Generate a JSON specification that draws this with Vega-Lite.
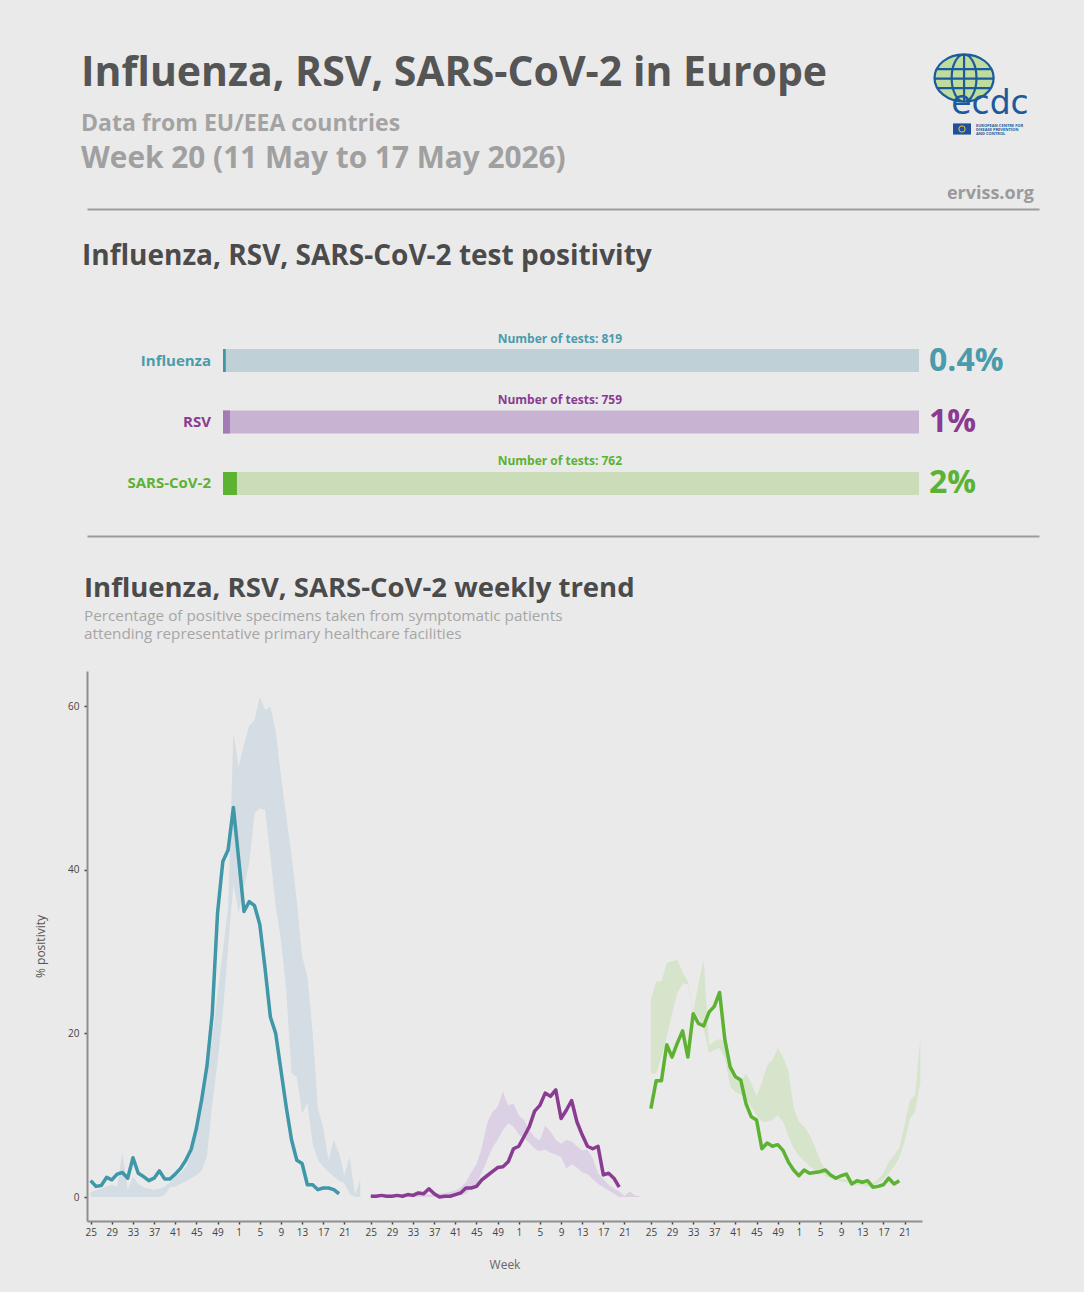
{
  "$schema": "https://vega.github.io/schema/vega-lite/v6.json",
  "background": "#eaeaea",
  "padding": {"left": 34, "top": 40, "right": 45, "bottom": 22},
  "spacing": 33,
  "config": {
    "view": {"stroke": null},
    "font": "Open Sans"
  },
  "datasets": {
    "header": [
      {"role": "title", "text": "Influenza, RSV, SARS-CoV-2 in Europe"},
      {"role": "subtitle", "text": "Data from EU/EEA countries"},
      {"role": "week", "text": "Week 20 (11 May to 17 May 2026)"},
      {"role": "site", "text": "erviss.org"},
      {"role": "logo", "text": "ecdc"},
      {"role": "logosub", "text": "EUROPEAN CENTRE FOR\nDISEASE PREVENTION\nAND CONTROL"}
    ],
    "tests": [
      {"pathogen": "Influenza", "positivity": 0.4, "tests": 819},
      {"pathogen": "RSV", "positivity": 1, "tests": 759},
      {"pathogen": "SARS-CoV-2", "positivity": 2, "tests": 762}
    ],
    "trend": [
      {"pathogen": "Influenza", "t": 0, "value": 2.0, "min": 0, "max": 0.6},
      {"pathogen": "Influenza", "t": 1, "value": 1.3, "min": 0, "max": 0.8},
      {"pathogen": "Influenza", "t": 2, "value": 1.4, "min": 0, "max": 1.0},
      {"pathogen": "Influenza", "t": 3, "value": 2.4, "min": 0, "max": 1.3},
      {"pathogen": "Influenza", "t": 4, "value": 2.1, "min": 0, "max": 1.5},
      {"pathogen": "Influenza", "t": 5, "value": 2.8, "min": 0, "max": 1.3},
      {"pathogen": "Influenza", "t": 6, "value": 3.0, "min": 0, "max": 5.5},
      {"pathogen": "Influenza", "t": 7, "value": 2.3, "min": 0, "max": 0.9},
      {"pathogen": "Influenza", "t": 8, "value": 4.8, "min": 0, "max": 2.5},
      {"pathogen": "Influenza", "t": 9, "value": 2.9, "min": 0, "max": 1.6},
      {"pathogen": "Influenza", "t": 10, "value": 2.5, "min": 0, "max": 1.2},
      {"pathogen": "Influenza", "t": 11, "value": 2.0, "min": 0, "max": 1.0},
      {"pathogen": "Influenza", "t": 12, "value": 2.3, "min": 0, "max": 0.9},
      {"pathogen": "Influenza", "t": 13, "value": 3.2, "min": 0, "max": 1.0},
      {"pathogen": "Influenza", "t": 14, "value": 2.2, "min": 0.3, "max": 1.3},
      {"pathogen": "Influenza", "t": 15, "value": 2.2, "min": 1.2, "max": 1.8},
      {"pathogen": "Influenza", "t": 16, "value": 2.8, "min": 1.3, "max": 2.4},
      {"pathogen": "Influenza", "t": 17, "value": 3.5, "min": 1.6, "max": 3.0},
      {"pathogen": "Influenza", "t": 18, "value": 4.5, "min": 1.9, "max": 3.6},
      {"pathogen": "Influenza", "t": 19, "value": 5.8, "min": 2.3, "max": 5.2},
      {"pathogen": "Influenza", "t": 20, "value": 8.4, "min": 2.7, "max": 7.8},
      {"pathogen": "Influenza", "t": 21, "value": 11.9, "min": 3.2, "max": 11.0},
      {"pathogen": "Influenza", "t": 22, "value": 16.0, "min": 5.0, "max": 14.5},
      {"pathogen": "Influenza", "t": 23, "value": 22.4, "min": 11.5, "max": 19.5},
      {"pathogen": "Influenza", "t": 24, "value": 34.7, "min": 16.5, "max": 24.8},
      {"pathogen": "Influenza", "t": 25, "value": 41.0, "min": 22.5, "max": 30.0},
      {"pathogen": "Influenza", "t": 26, "value": 42.4, "min": 30.5, "max": 35.4},
      {"pathogen": "Influenza", "t": 27, "value": 47.6, "min": 38.3, "max": 56.7},
      {"pathogen": "Influenza", "t": 28, "value": 41.3, "min": 34.7, "max": 52.6},
      {"pathogen": "Influenza", "t": 29, "value": 34.9, "min": 37.9, "max": 55.2},
      {"pathogen": "Influenza", "t": 30, "value": 36.1, "min": 40.8, "max": 57.6},
      {"pathogen": "Influenza", "t": 31, "value": 35.6, "min": 46.9, "max": 58.3},
      {"pathogen": "Influenza", "t": 32, "value": 33.3, "min": 47.5, "max": 61.1},
      {"pathogen": "Influenza", "t": 33, "value": 27.9, "min": 47.3, "max": 59.5},
      {"pathogen": "Influenza", "t": 34, "value": 22.0, "min": 41.6, "max": 59.9},
      {"pathogen": "Influenza", "t": 35, "value": 20.0, "min": 35.5, "max": 56.9},
      {"pathogen": "Influenza", "t": 36, "value": 15.5, "min": 31.4, "max": 51.5},
      {"pathogen": "Influenza", "t": 37, "value": 11.0, "min": 25.3, "max": 46.5},
      {"pathogen": "Influenza", "t": 38, "value": 7.0, "min": 15.1, "max": 41.8},
      {"pathogen": "Influenza", "t": 39, "value": 4.5, "min": 14.7, "max": 36.2},
      {"pathogen": "Influenza", "t": 40, "value": 4.1, "min": 10.2, "max": 29.4},
      {"pathogen": "Influenza", "t": 41, "value": 1.5, "min": 11.5, "max": 27.0},
      {"pathogen": "Influenza", "t": 42, "value": 1.5, "min": 6.5, "max": 20.0},
      {"pathogen": "Influenza", "t": 43, "value": 0.9, "min": 4.5, "max": 10.8},
      {"pathogen": "Influenza", "t": 44, "value": 1.1, "min": 3.7, "max": 8.5},
      {"pathogen": "Influenza", "t": 45, "value": 1.1, "min": 3.1, "max": 4.5},
      {"pathogen": "Influenza", "t": 46, "value": 0.9, "min": 2.5, "max": 7.0},
      {"pathogen": "Influenza", "t": 47, "value": 0.4, "min": 2.0, "max": 5.3},
      {"pathogen": "Influenza", "t": 48, "min": 1.7, "max": 2.7},
      {"pathogen": "Influenza", "t": 49, "min": 0.4, "max": 4.9},
      {"pathogen": "Influenza", "t": 50, "min": 0, "max": 0.3},
      {"pathogen": "Influenza", "t": 51, "min": 0, "max": 2.1},
      {"pathogen": "RSV", "t": 53, "value": 0.1, "min": 0, "max": 0.3},
      {"pathogen": "RSV", "t": 54, "value": 0.1, "min": 0, "max": 0.3},
      {"pathogen": "RSV", "t": 55, "value": 0.2, "min": 0, "max": 0.3},
      {"pathogen": "RSV", "t": 56, "value": 0.1, "min": 0, "max": 0.3},
      {"pathogen": "RSV", "t": 57, "value": 0.1, "min": 0, "max": 0.3},
      {"pathogen": "RSV", "t": 58, "value": 0.2, "min": 0, "max": 0.3},
      {"pathogen": "RSV", "t": 59, "value": 0.1, "min": 0, "max": 0.3},
      {"pathogen": "RSV", "t": 60, "value": 0.3, "min": 0, "max": 0.3},
      {"pathogen": "RSV", "t": 61, "value": 0.2, "min": 0, "max": 0.3},
      {"pathogen": "RSV", "t": 62, "value": 0.5, "min": 0, "max": 0.3},
      {"pathogen": "RSV", "t": 63, "value": 0.4, "min": 0, "max": 0.3},
      {"pathogen": "RSV", "t": 64, "value": 1.0, "min": 0, "max": 0.3},
      {"pathogen": "RSV", "t": 65, "value": 0.4, "min": 0, "max": 0.3},
      {"pathogen": "RSV", "t": 66, "value": 0.0, "min": 0, "max": 0.4},
      {"pathogen": "RSV", "t": 67, "value": 0.1, "min": 0, "max": 0.5},
      {"pathogen": "RSV", "t": 68, "value": 0.1, "min": 0, "max": 0.6},
      {"pathogen": "RSV", "t": 69, "value": 0.3, "min": 0.1, "max": 0.8},
      {"pathogen": "RSV", "t": 70, "value": 0.5, "min": 0.2, "max": 1.2},
      {"pathogen": "RSV", "t": 71, "value": 1.1, "min": 0.4, "max": 1.8},
      {"pathogen": "RSV", "t": 72, "value": 1.1, "min": 1.0, "max": 3.0},
      {"pathogen": "RSV", "t": 73, "value": 1.3, "min": 1.6, "max": 4.0},
      {"pathogen": "RSV", "t": 74, "value": 2.1, "min": 3.0, "max": 6.0},
      {"pathogen": "RSV", "t": 75, "value": 2.6, "min": 4.5, "max": 9.0},
      {"pathogen": "RSV", "t": 76, "value": 3.1, "min": 6.0, "max": 10.4},
      {"pathogen": "RSV", "t": 77, "value": 3.6, "min": 7.0, "max": 11.0},
      {"pathogen": "RSV", "t": 78, "value": 3.7, "min": 8.2, "max": 12.9},
      {"pathogen": "RSV", "t": 79, "value": 4.3, "min": 9.0, "max": 11.2},
      {"pathogen": "RSV", "t": 80, "value": 5.9, "min": 8.6, "max": 11.4},
      {"pathogen": "RSV", "t": 81, "value": 6.2, "min": 7.6, "max": 10.0},
      {"pathogen": "RSV", "t": 82, "value": 7.4, "min": 7.2, "max": 9.4},
      {"pathogen": "RSV", "t": 83, "value": 8.6, "min": 6.6, "max": 8.2},
      {"pathogen": "RSV", "t": 84, "value": 10.5, "min": 5.9, "max": 7.3},
      {"pathogen": "RSV", "t": 85, "value": 11.2, "min": 5.6, "max": 6.9},
      {"pathogen": "RSV", "t": 86, "value": 12.7, "min": 5.8, "max": 8.7},
      {"pathogen": "RSV", "t": 87, "value": 12.3, "min": 5.4, "max": 8.0},
      {"pathogen": "RSV", "t": 88, "value": 13.1, "min": 5.2, "max": 7.0},
      {"pathogen": "RSV", "t": 89, "value": 9.6, "min": 4.9, "max": 6.5},
      {"pathogen": "RSV", "t": 90, "value": 10.6, "min": 3.5, "max": 7.0},
      {"pathogen": "RSV", "t": 91, "value": 11.8, "min": 4.0, "max": 6.8},
      {"pathogen": "RSV", "t": 92, "value": 9.2, "min": 3.6, "max": 6.2},
      {"pathogen": "RSV", "t": 93, "value": 7.6, "min": 3.0, "max": 5.7},
      {"pathogen": "RSV", "t": 94, "value": 6.2, "min": 2.8, "max": 5.8},
      {"pathogen": "RSV", "t": 95, "value": 5.9, "min": 2.2, "max": 4.7},
      {"pathogen": "RSV", "t": 96, "value": 6.2, "min": 1.6, "max": 2.9},
      {"pathogen": "RSV", "t": 97, "value": 2.7, "min": 1.2, "max": 2.2},
      {"pathogen": "RSV", "t": 98, "value": 2.9, "min": 0.8, "max": 1.5},
      {"pathogen": "RSV", "t": 99, "value": 2.3, "min": 0.4, "max": 1.0},
      {"pathogen": "RSV", "t": 100, "value": 1.2, "min": 0, "max": 0.7},
      {"pathogen": "RSV", "t": 101, "min": 0, "max": 0.1},
      {"pathogen": "RSV", "t": 102, "min": 0, "max": 0.7},
      {"pathogen": "RSV", "t": 103, "min": 0, "max": 0.2},
      {"pathogen": "RSV", "t": 104, "min": 0, "max": 0.1},
      {"pathogen": "SARS-CoV-2", "t": 106, "value": 10.8, "min": 15.1, "max": 24.1},
      {"pathogen": "SARS-CoV-2", "t": 107, "value": 14.2, "min": 15.1, "max": 26.3},
      {"pathogen": "SARS-CoV-2", "t": 108, "value": 14.2, "min": 17.1, "max": 26.4},
      {"pathogen": "SARS-CoV-2", "t": 109, "value": 18.6, "min": 19.6, "max": 28.6},
      {"pathogen": "SARS-CoV-2", "t": 110, "value": 17.1, "min": 22.4, "max": 28.8},
      {"pathogen": "SARS-CoV-2", "t": 111, "value": 18.8, "min": 24.9, "max": 29.0},
      {"pathogen": "SARS-CoV-2", "t": 112, "value": 20.3, "min": 26.1, "max": 27.5},
      {"pathogen": "SARS-CoV-2", "t": 113, "value": 17.1, "min": 26.0, "max": 26.3},
      {"pathogen": "SARS-CoV-2", "t": 114, "value": 22.4, "min": 22.2, "max": 22.6},
      {"pathogen": "SARS-CoV-2", "t": 115, "value": 21.2, "min": 22.0, "max": 26.1},
      {"pathogen": "SARS-CoV-2", "t": 116, "value": 20.9, "min": 20.5, "max": 29.0},
      {"pathogen": "SARS-CoV-2", "t": 117, "value": 22.6, "min": 17.6, "max": 18.5},
      {"pathogen": "SARS-CoV-2", "t": 118, "value": 23.3, "min": 18.0, "max": 19.0},
      {"pathogen": "SARS-CoV-2", "t": 119, "value": 25.0, "min": 18.2, "max": 19.3},
      {"pathogen": "SARS-CoV-2", "t": 120, "value": 19.2, "min": 17.0, "max": 19.0},
      {"pathogen": "SARS-CoV-2", "t": 121, "value": 15.9, "min": 13.5, "max": 16.0},
      {"pathogen": "SARS-CoV-2", "t": 122, "value": 14.7, "min": 12.8, "max": 14.5},
      {"pathogen": "SARS-CoV-2", "t": 123, "value": 14.3, "min": 12.5, "max": 14.0},
      {"pathogen": "SARS-CoV-2", "t": 124, "value": 11.4, "min": 12.0, "max": 15.1},
      {"pathogen": "SARS-CoV-2", "t": 125, "value": 9.8, "min": 11.0, "max": 13.9},
      {"pathogen": "SARS-CoV-2", "t": 126, "value": 9.4, "min": 10.0, "max": 12.3},
      {"pathogen": "SARS-CoV-2", "t": 127, "value": 5.9, "min": 9.2, "max": 14.0},
      {"pathogen": "SARS-CoV-2", "t": 128, "value": 6.6, "min": 9.2, "max": 16.1},
      {"pathogen": "SARS-CoV-2", "t": 129, "value": 6.2, "min": 9.4, "max": 16.7},
      {"pathogen": "SARS-CoV-2", "t": 130, "value": 6.4, "min": 10.0, "max": 18.2},
      {"pathogen": "SARS-CoV-2", "t": 131, "value": 5.7, "min": 9.2, "max": 17.1},
      {"pathogen": "SARS-CoV-2", "t": 132, "value": 4.3, "min": 7.5, "max": 15.5},
      {"pathogen": "SARS-CoV-2", "t": 133, "value": 3.3, "min": 6.0, "max": 11.0},
      {"pathogen": "SARS-CoV-2", "t": 134, "value": 2.6, "min": 5.0, "max": 9.2},
      {"pathogen": "SARS-CoV-2", "t": 135, "value": 3.3, "min": 4.4, "max": 8.6},
      {"pathogen": "SARS-CoV-2", "t": 136, "value": 2.9, "min": 3.8, "max": 7.6},
      {"pathogen": "SARS-CoV-2", "t": 137, "value": 3.0, "min": 3.3, "max": 6.2},
      {"pathogen": "SARS-CoV-2", "t": 138, "value": 3.1, "min": 2.9, "max": 4.5},
      {"pathogen": "SARS-CoV-2", "t": 139, "value": 3.3, "min": 2.6, "max": 3.3},
      {"pathogen": "SARS-CoV-2", "t": 140, "value": 2.7, "min": 2.3, "max": 2.8},
      {"pathogen": "SARS-CoV-2", "t": 141, "value": 2.3, "min": 2.1, "max": 2.4},
      {"pathogen": "SARS-CoV-2", "t": 142, "value": 2.6, "min": 1.9, "max": 2.2},
      {"pathogen": "SARS-CoV-2", "t": 143, "value": 2.8, "min": 1.8, "max": 2.1},
      {"pathogen": "SARS-CoV-2", "t": 144, "value": 1.6, "min": 1.6, "max": 1.9},
      {"pathogen": "SARS-CoV-2", "t": 145, "value": 2.0, "min": 1.5, "max": 1.8},
      {"pathogen": "SARS-CoV-2", "t": 146, "value": 1.8, "min": 1.4, "max": 1.7},
      {"pathogen": "SARS-CoV-2", "t": 147, "value": 2.0, "min": 1.3, "max": 2.1},
      {"pathogen": "SARS-CoV-2", "t": 148, "value": 1.2, "min": 1.3, "max": 1.7},
      {"pathogen": "SARS-CoV-2", "t": 149, "value": 1.3, "min": 1.7, "max": 2.2},
      {"pathogen": "SARS-CoV-2", "t": 150, "value": 1.5, "min": 2.1, "max": 2.9},
      {"pathogen": "SARS-CoV-2", "t": 151, "value": 2.3, "min": 2.9, "max": 4.3},
      {"pathogen": "SARS-CoV-2", "t": 152, "value": 1.6, "min": 3.7, "max": 5.1},
      {"pathogen": "SARS-CoV-2", "t": 153, "value": 2.0, "min": 4.8, "max": 6.0},
      {"pathogen": "SARS-CoV-2", "t": 154, "min": 6.8, "max": 8.8},
      {"pathogen": "SARS-CoV-2", "t": 155, "min": 9.5, "max": 11.8},
      {"pathogen": "SARS-CoV-2", "t": 156, "min": 10.5, "max": 12.5},
      {"pathogen": "SARS-CoV-2", "t": 157, "min": 14.0, "max": 19.6}
    ]
  },
  "vconcat": [
    {
      "width": 952,
      "height": 169,
      "data": {"name": "header"},
      "layer": [
        {
          "transform": [{"filter": "datum.role === 'title'"}],
          "mark": {"type": "text", "align": "left", "baseline": "alphabetic", "fontSize": 41, "fontWeight": "bold", "color": "#555555", "dx": -6},
          "encoding": {
            "x": {"datum": 0, "type": "quantitative", "scale": {"domain": [0, 1]}, "axis": {"domainColor": "#9c9c9c", "domainWidth": 2, "ticks": false, "labels": false, "grid": false, "title": null}},
            "y": {"datum": 0.728, "type": "quantitative", "scale": {"domain": [0, 1]}, "axis": null},
            "text": {"field": "text", "type": "nominal"}
          }
        },
        {
          "transform": [{"filter": "datum.role === 'subtitle'"}],
          "mark": {"type": "text", "align": "left", "baseline": "alphabetic", "fontSize": 23, "fontWeight": "bold", "color": "#a3a3a3", "dx": -6},
          "encoding": {
            "x": {"datum": 0, "type": "quantitative", "scale": {"domain": [0, 1]}, "axis": {"domainColor": "#9c9c9c", "domainWidth": 2, "ticks": false, "labels": false, "grid": false, "title": null}},
            "y": {"datum": 0.4615, "type": "quantitative", "scale": {"domain": [0, 1]}, "axis": null},
            "text": {"field": "text", "type": "nominal"}
          }
        },
        {
          "transform": [{"filter": "datum.role === 'week'"}],
          "mark": {"type": "text", "align": "left", "baseline": "alphabetic", "fontSize": 29.8, "fontWeight": "bold", "color": "#a0a0a0", "dx": -6},
          "encoding": {
            "x": {"datum": 0, "type": "quantitative", "scale": {"domain": [0, 1]}, "axis": {"domainColor": "#9c9c9c", "domainWidth": 2, "ticks": false, "labels": false, "grid": false, "title": null}},
            "y": {"datum": 0.2426, "type": "quantitative", "scale": {"domain": [0, 1]}, "axis": null},
            "text": {"field": "text", "type": "nominal"}
          }
        },
        {
          "transform": [{"filter": "datum.role === 'site'"}],
          "mark": {"type": "text", "align": "right", "baseline": "alphabetic", "fontSize": 18, "fontWeight": "bold", "color": "#9a9a9a", "dx": -5},
          "encoding": {
            "x": {"datum": 1, "type": "quantitative", "scale": {"domain": [0, 1]}, "axis": {"domainColor": "#9c9c9c", "domainWidth": 2, "ticks": false, "labels": false, "grid": false, "title": null}},
            "y": {"datum": 0.0592, "type": "quantitative", "scale": {"domain": [0, 1]}, "axis": null},
            "text": {"field": "text", "type": "nominal"}
          }
        },
        {
          "transform": [{"filter": "datum.role === 'logo'"}],
          "mark": {"type": "point", "shape": "M -1 0 A 1 0.8 0 1 1 1 0 A 1 0.8 0 1 1 -1 0 Z", "size": 3500, "filled": true, "color": "#b9da95", "opacity": 0.9},
          "encoding": {
            "x": {"datum": 0.9213, "type": "quantitative", "scale": {"domain": [0, 1]}, "axis": {"domainColor": "#9c9c9c", "domainWidth": 2, "ticks": false, "labels": false, "grid": false, "title": null}},
            "y": {"datum": 0.7752, "type": "quantitative", "scale": {"domain": [0, 1]}, "axis": null}
          }
        },
        {
          "transform": [{"filter": "datum.role === 'logo'"}],
          "mark": {"type": "point", "shape": "M -1 0 A 1 0.8 0 1 1 1 0 A 1 0.8 0 1 1 -1 0 Z M 0 -0.8 A 0.42 0.8 0 1 1 0 0.8 A 0.42 0.8 0 1 1 0 -0.8 M -0.93 -0.3 L 0.93 -0.3 M -1 0.02 L 1 0.02 M -0.93 0.34 L 0.93 0.34 M 0 -0.8 L 0 0.8", "size": 3500, "filled": false, "stroke": "#1d5a9c", "strokeWidth": 2.2, "opacity": 1},
          "encoding": {
            "x": {"datum": 0.9213, "type": "quantitative", "scale": {"domain": [0, 1]}, "axis": {"domainColor": "#9c9c9c", "domainWidth": 2, "ticks": false, "labels": false, "grid": false, "title": null}},
            "y": {"datum": 0.7752, "type": "quantitative", "scale": {"domain": [0, 1]}, "axis": null}
          }
        },
        {
          "transform": [{"filter": "datum.role === 'logo'"}],
          "mark": {"type": "text", "align": "center", "baseline": "alphabetic", "fontSize": 33, "font": "DejaVu Sans", "color": "#1d5a9c"},
          "encoding": {
            "x": {"datum": 0.9485, "type": "quantitative", "scale": {"domain": [0, 1]}, "axis": {"domainColor": "#9c9c9c", "domainWidth": 2, "ticks": false, "labels": false, "grid": false, "title": null}},
            "y": {"datum": 0.5621, "type": "quantitative", "scale": {"domain": [0, 1]}, "axis": null},
            "text": {"field": "text", "type": "nominal"}
          }
        },
        {
          "transform": [{"filter": "datum.role === 'logosub'"}],
          "mark": {"type": "text", "align": "left", "baseline": "top", "fontSize": 4, "lineHeight": 4.2, "lineBreak": "\n", "fontWeight": "bold", "color": "#1d5a9c"},
          "encoding": {
            "x": {"datum": 0.9338, "type": "quantitative", "scale": {"domain": [0, 1]}, "axis": {"domainColor": "#9c9c9c", "domainWidth": 2, "ticks": false, "labels": false, "grid": false, "title": null}},
            "y": {"datum": 0.503, "type": "quantitative", "scale": {"domain": [0, 1]}, "axis": null},
            "text": {"field": "text", "type": "nominal"}
          }
        },
        {
          "transform": [{"filter": "datum.role === 'logosub'"}],
          "mark": {"type": "point", "shape": "M -1 -0.62 L 1 -0.62 L 1 0.62 L -1 0.62 Z", "size": 324, "filled": true, "color": "#1f4f9e", "opacity": 1},
          "encoding": {
            "x": {"datum": 0.9191, "type": "quantitative", "scale": {"domain": [0, 1]}, "axis": {"domainColor": "#9c9c9c", "domainWidth": 2, "ticks": false, "labels": false, "grid": false, "title": null}},
            "y": {"datum": 0.4734, "type": "quantitative", "scale": {"domain": [0, 1]}, "axis": null}
          }
        },
        {
          "transform": [{"filter": "datum.role === 'logosub'"}],
          "mark": {"type": "point", "shape": "circle", "size": 40, "filled": false, "stroke": "#f2cf1f", "strokeWidth": 1, "opacity": 1},
          "encoding": {
            "x": {"datum": 0.9191, "type": "quantitative", "scale": {"domain": [0, 1]}, "axis": {"domainColor": "#9c9c9c", "domainWidth": 2, "ticks": false, "labels": false, "grid": false, "title": null}},
            "y": {"datum": 0.4734, "type": "quantitative", "scale": {"domain": [0, 1]}, "axis": null}
          }
        }
      ]
    },
    {
      "width": 952,
      "height": 228,
      "title": {"text": "Influenza, RSV, SARS-CoV-2 test positivity", "anchor": "start", "frame": "group", "fontSize": 28, "fontWeight": "bold", "color": "#4b4b4b", "dx": -5, "offset": 37.5},
      "data": {"name": "tests"},
      "transform": [
        {"calculate": "'Number of tests: ' + datum.tests", "as": "testsText"},
        {"calculate": "datum.positivity + '%'", "as": "pctText"}
      ],
      "resolve": {"scale": {"color": "independent"}},
      "layer": [
        {
          "mark": {"type": "bar"},
          "encoding": {
            "y": {"field": "pathogen", "type": "nominal", "sort": ["Influenza", "RSV", "SARS-CoV-2"], "scale": {"paddingInner": 0.626, "paddingOuter": 0.667}, "axis": null},
            "x": {"datum": 100, "type": "quantitative", "scale": {"domain": [-19.54, 117.24], "nice": false, "zero": false}, "axis": {"domainColor": "#9c9c9c", "domainWidth": 2, "ticks": false, "labels": false, "grid": false, "title": null, "minExtent": 6}},
            "color": {"field": "pathogen", "type": "nominal", "scale": {"domain": ["Influenza", "RSV", "SARS-CoV-2"], "range": ["#c0d0d7", "#c8b4d2", "#cbdcb8"]}, "legend": null}
          }
        },
        {
          "mark": {"type": "bar"},
          "encoding": {
            "y": {"field": "pathogen", "type": "nominal", "sort": ["Influenza", "RSV", "SARS-CoV-2"], "scale": {"paddingInner": 0.626, "paddingOuter": 0.667}, "axis": null},
            "x": {"field": "positivity", "type": "quantitative", "scale": {"domain": [-19.54, 117.24], "nice": false, "zero": false}, "axis": {"domainColor": "#9c9c9c", "domainWidth": 2, "ticks": false, "labels": false, "grid": false, "title": null, "minExtent": 6}},
            "color": {"field": "pathogen", "type": "nominal", "scale": {"domain": ["Influenza", "RSV", "SARS-CoV-2"], "range": ["#3f97a6", "#a47cb5", "#5cb232"]}, "legend": null}
          }
        },
        {
          "mark": {"type": "text", "align": "right", "baseline": "middle", "fontSize": 15, "fontWeight": "bold", "dx": -12},
          "encoding": {
            "y": {"field": "pathogen", "type": "nominal", "sort": ["Influenza", "RSV", "SARS-CoV-2"], "scale": {"paddingInner": 0.626, "paddingOuter": 0.667}, "axis": null},
            "x": {"datum": 0, "type": "quantitative", "scale": {"domain": [-19.54, 117.24], "nice": false, "zero": false}, "axis": {"domainColor": "#9c9c9c", "domainWidth": 2, "ticks": false, "labels": false, "grid": false, "title": null, "minExtent": 6}},
            "text": {"field": "pathogen", "type": "nominal"},
            "color": {"field": "pathogen", "type": "nominal", "scale": {"domain": ["Influenza", "RSV", "SARS-CoV-2"], "range": ["#4a9cac", "#8b3a92", "#5cb233"]}, "legend": null}
          }
        },
        {
          "mark": {"type": "text", "align": "center", "baseline": "middle", "fontSize": 12, "fontWeight": "bold", "dy": -22},
          "encoding": {
            "y": {"field": "pathogen", "type": "nominal", "sort": ["Influenza", "RSV", "SARS-CoV-2"], "scale": {"paddingInner": 0.626, "paddingOuter": 0.667}, "axis": null},
            "x": {"datum": 48.4, "type": "quantitative", "scale": {"domain": [-19.54, 117.24], "nice": false, "zero": false}, "axis": {"domainColor": "#9c9c9c", "domainWidth": 2, "ticks": false, "labels": false, "grid": false, "title": null, "minExtent": 6}},
            "text": {"field": "testsText", "type": "nominal"},
            "color": {"field": "pathogen", "type": "nominal", "scale": {"domain": ["Influenza", "RSV", "SARS-CoV-2"], "range": ["#4a9cac", "#8b3a92", "#5cb233"]}, "legend": null}
          }
        },
        {
          "mark": {"type": "text", "align": "left", "baseline": "middle", "fontSize": 32, "fontWeight": "bold", "dx": 10},
          "encoding": {
            "y": {"field": "pathogen", "type": "nominal", "sort": ["Influenza", "RSV", "SARS-CoV-2"], "scale": {"paddingInner": 0.626, "paddingOuter": 0.667}, "axis": null},
            "x": {"datum": 100, "type": "quantitative", "scale": {"domain": [-19.54, 117.24], "nice": false, "zero": false}, "axis": {"domainColor": "#9c9c9c", "domainWidth": 2, "ticks": false, "labels": false, "grid": false, "title": null, "minExtent": 6}},
            "text": {"field": "pctText", "type": "nominal"},
            "color": {"field": "pathogen", "type": "nominal", "scale": {"domain": ["Influenza", "RSV", "SARS-CoV-2"], "range": ["#4a9cac", "#8b3a92", "#5cb233"]}, "legend": null}
          }
        }
      ]
    },
    {
      "width": 835,
      "height": 550,
      "title": {
        "text": "Influenza, RSV, SARS-CoV-2 weekly trend",
        "subtitle": ["Percentage of positive specimens taken from symptomatic patients", "attending representative primary healthcare facilities"],
        "anchor": "start", "frame": "group", "fontSize": 27.5, "fontWeight": "bold", "color": "#4b4b4b", "dx": -3, "offset": 28.5,
        "subtitleFontSize": 15.3, "subtitleColor": "#a6a6a6", "subtitlePadding": 6, "subtitleLineHeight": 18.5
      },
      "data": {"name": "trend"},
      "layer": [
        {
          "mark": {"type": "area"},
          "encoding": {
            "x": {"field": "t", "type": "quantitative", "scale": {"domain": [-0.7, 157.3], "nice": false, "zero": false},
              "axis": {"values": [0, 4, 8, 12, 16, 20, 24, 28, 32, 36, 40, 44, 48, 53, 57, 61, 65, 69, 73, 77, 81, 85, 89, 93, 97, 101, 106, 110, 114, 118, 122, 126, 130, 134, 138, 142, 146, 150, 154],
                "labelExpr": "(((datum.value % 53) + 24) % 52) + 1", "title": "Week", "titleFontSize": 12, "titleFontWeight": "normal", "titleColor": "#666666", "titlePadding": 22,
                "labelFontSize": 10, "labelColor": "#444444", "labelPadding": 3, "tickColor": "#444444", "tickSize": 3, "tickWidth": 1.5, "domainColor": "#8f8f8f", "domainWidth": 2, "grid": false, "labelOverlap": false, "labelFlush": false}},
            "y": {"field": "max", "type": "quantitative", "scale": {"domain": [-2.93, 64.28], "nice": false, "zero": false},
              "axis": {"values": [0, 20, 40, 60], "title": "% positivity", "titleFontSize": 12, "titleFontWeight": "normal", "titleColor": "#555555", "titlePadding": 20,
                "labelFontSize": 10, "labelColor": "#444444", "labelPadding": 5, "tickColor": "#444444", "tickSize": 3, "tickWidth": 1.5, "domainColor": "#8f8f8f", "domainWidth": 2, "grid": false}},
            "y2": {"field": "min"},
            "fill": {"field": "pathogen", "type": "nominal", "scale": {"domain": ["Influenza", "RSV", "SARS-CoV-2"], "range": ["#d3dde3", "#dcd1e4", "#d7e4cc"]}, "legend": null}
          }
        },
        {
          "mark": {"type": "line", "strokeWidth": 3.5, "strokeJoin": "round"},
          "encoding": {
            "x": {"field": "t", "type": "quantitative", "scale": {"domain": [-0.7, 157.3], "nice": false, "zero": false},
              "axis": {"values": [0, 4, 8, 12, 16, 20, 24, 28, 32, 36, 40, 44, 48, 53, 57, 61, 65, 69, 73, 77, 81, 85, 89, 93, 97, 101, 106, 110, 114, 118, 122, 126, 130, 134, 138, 142, 146, 150, 154],
                "labelExpr": "(((datum.value % 53) + 24) % 52) + 1", "title": "Week", "titleFontSize": 12, "titleFontWeight": "normal", "titleColor": "#666666", "titlePadding": 22,
                "labelFontSize": 10, "labelColor": "#444444", "labelPadding": 3, "tickColor": "#444444", "tickSize": 3, "tickWidth": 1.5, "domainColor": "#8f8f8f", "domainWidth": 2, "grid": false, "labelOverlap": false, "labelFlush": false}},
            "y": {"field": "value", "type": "quantitative", "scale": {"domain": [-2.93, 64.28], "nice": false, "zero": false},
              "axis": {"values": [0, 20, 40, 60], "title": "% positivity", "titleFontSize": 12, "titleFontWeight": "normal", "titleColor": "#555555", "titlePadding": 20,
                "labelFontSize": 10, "labelColor": "#444444", "labelPadding": 5, "tickColor": "#444444", "tickSize": 3, "tickWidth": 1.5, "domainColor": "#8f8f8f", "domainWidth": 2, "grid": false}},
            "stroke": {"field": "pathogen", "type": "nominal", "scale": {"domain": ["Influenza", "RSV", "SARS-CoV-2"], "range": ["#3f97a8", "#8a3b92", "#5db233"]}, "legend": null}
          }
        }
      ]
    }
  ]
}
